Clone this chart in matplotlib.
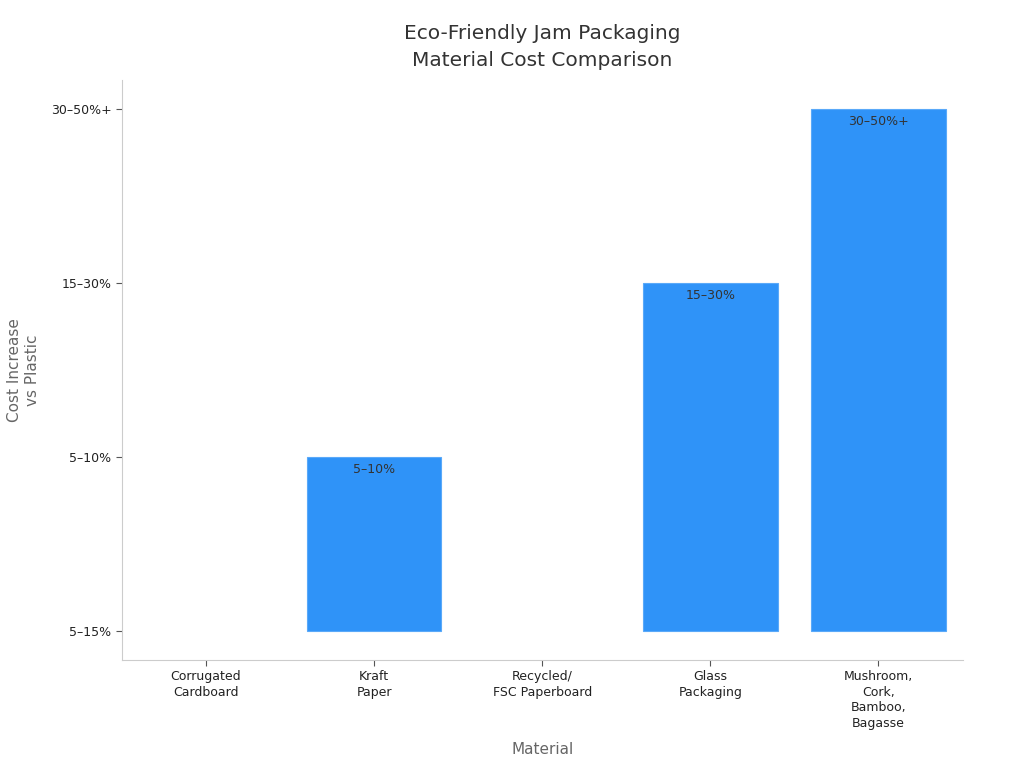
import matplotlib
matplotlib.use("Agg")
import matplotlib.pyplot as plt
import numpy as np

materials = ["Corrugated\nCardboard", "Kraft\nPaper", "Recycled/\nFSC Paperboard",
             "Glass\nPackaging", "Mushroom,\nCork,\nBamboo,\nBagasse"]
levels = ["5–15%", "5–10%", "15–30%", "30–50%+"]
cost_level = ["5–15%", "5–10%", "5–15%", "15–30%", "30–50%+"]

y = np.array([levels.index(c) for c in cost_level])
x = np.arange(len(materials))

fig = plt.figure(figsize=(10.24, 7.68), dpi=100)
ax = fig.add_axes([0.119, 0.1406, 0.821, 0.7552])

bars = ax.bar(x, y, width=0.8, color="#2f93f8", edgecolor="#5aa9f9", linewidth=0.8)
for b, xi, yi, lab in zip(bars, x, y, cost_level):
    if yi > 0:
        ax.text(xi, yi - 0.035, lab, ha="center", va="top", fontsize=9, color="#333333")
    else:
        b.set_linewidth(0)

ax.set_xlim(-0.5, len(materials) - 0.5)
ax.set_ylim(-0.167, 3.167)
ax.set_xticks(x)
ax.set_xticklabels(materials, fontsize=9, color="#222222", linespacing=1.25)
ax.set_yticks(range(len(levels)))
ax.set_yticklabels(levels, fontsize=9, color="#222222")
ax.tick_params(colors="#555555", length=4, width=0.8, labelcolor="#222222")

for s in ["top", "right"]:
    ax.spines[s].set_visible(False)
for s in ["left", "bottom"]:
    ax.spines[s].set_color("#cccccc")
    ax.spines[s].set_linewidth(0.8)

ax.set_xlabel("Material", fontsize=11, color="#666666", labelpad=9)
ax.set_ylabel("Cost Increase\nvs Plastic", fontsize=11, color="#666666", labelpad=8)
ax.set_title("Eco-Friendly Jam Packaging\nMaterial Cost Comparison", fontsize=14.5,
             color="#333333", pad=10, linespacing=1.55)

fig.savefig("out.png", dpi=100)
